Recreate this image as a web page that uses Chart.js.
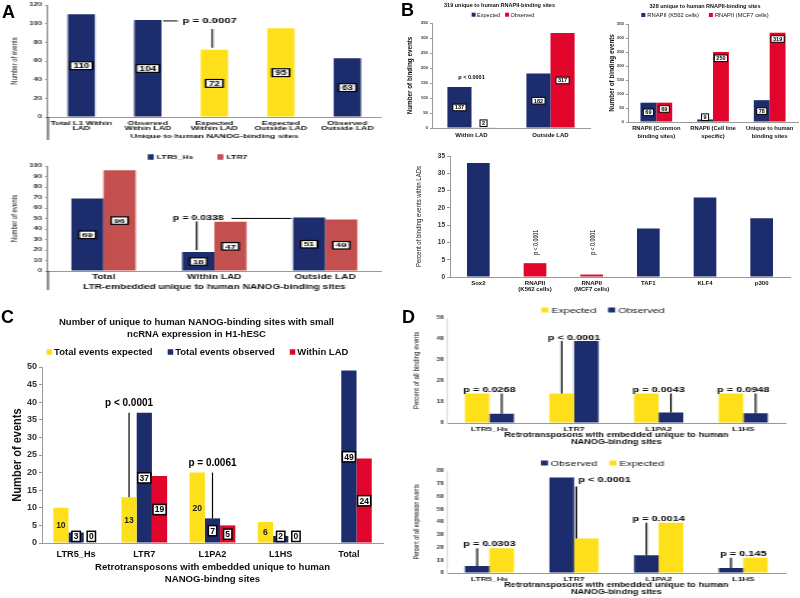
<!DOCTYPE html>
<html lang="en">
<head>
<meta charset="UTF-8" />
<title>Unique to human NANOG and RNAPII binding sites</title>
<script src="https://cdn.jsdelivr.net/npm/chart.js"></script>
<style>
  body { margin: 0; background: #fff; font-family: "Liberation Sans", Arial, sans-serif; }
  #fig { position: relative; width: 800px; height: 598px; overflow: hidden; background: #fff; }
  #fig canvas { position: absolute; }
  .letter { position: absolute; font-weight: bold; font-size: 18px; line-height: 1; color: #000; }
</style>
</head>
<body>
<div id="fig">
  <canvas id="chartA1"></canvas>
  <canvas id="chartA2"></canvas>
  <canvas id="chartB1"></canvas>
  <canvas id="chartB2"></canvas>
  <canvas id="chartB3"></canvas>
  <canvas id="chartC"></canvas>
  <canvas id="chartD1"></canvas>
  <canvas id="chartD2"></canvas>
  <div class="letter" style="left:2px;top:3px">A</div>
  <div class="letter" style="left:401px;top:1px">B</div>
  <div class="letter" style="left:1px;top:308px">C</div>
  <div class="letter" style="left:402px;top:308px">D</div>
</div>

<script>
// ---- data ----
// A, top
const a1Labels = [["Total L1 Within", "LAD"], ["Observed", "Within LAD"], ["Expected", "Within LAD"], ["Expected", "Outside LAD"], ["Observed", "Outside LAD"]];
const a1Counts = [110, 104, 72, 95, 63];
const a1Kind = ["observed", "observed", "expected", "expected", "observed"];
const a1AxisTitle = "Unique to human NANOG-binding sites";
const a1PValue = "p = 0.0007";

// A, bottom
const a2Labels = ["Total", "Within LAD", "Outside LAD"];
const a2Ltr5 = [69, 18, 51];
const a2Ltr7 = [96, 47, 49];
const a2AxisTitle = "LTR-embedded unique to human NANOG-binding sites";
const a2PValue = "p = 0.0338";

// B, top left
const b1Title = "319 unique to human RNAPII-binding sites";
const b1Labels = ["Within LAD", "Outside LAD"];
const b1Expected = [137, 182];
const b1Observed = [2, 317];
const b1P = ["p < 0.0001", null];

// B, top right
const b2Title = "328 unique to human RNAPII-binding sites";
const b2Labels = [["RNAPII (Common", "binding sites)"], ["RNAPII (Cell line", "specific)"], ["Unique to human", "binding sites"]];
const b2K562 = [69, 9, 78];
const b2Mcf7 = [69, 250, 319];

// B, bottom
const b3Labels = ["Sox2", ["RNAPII", "(K562 cells)"], ["RNAPII", "(MCF7 cells)"], "TAF1", "KLF4", "p300"];
const b3Percent = [33, 4, 0.7, 14, 23, 17];
const b3P = [null, "p < 0.0001", "p < 0.0001", null, null, null];

// C
const cTitle = ["Number of unique to human NANOG-binding sites with small", "ncRNA expression in H1-hESC"];
const cLabels = ["LTR5_Hs", "LTR7", "L1PA2", "L1HS", "Total"];
const cExpected = [10, 13, 20, 6, null];
const cObserved = [3, 37, 7, 2, 49];
const cWithinLad = [0, 19, 5, 0, 24];
const cP = [null, "p < 0.0001", "p = 0.0061", null, null];

// D
const dLabels = ["LTR5_Hs", "LTR7", "L1PA2", "L1HS"];
const dAxisTitle = ["Retrotransposons with embedded unique to human", "NANOG-bindng sites"];
const dBindExpected = [14, 14, 14, 14];
const dBindObserved = [4.4, 39, 5, 4.6];
const dBindP = ["p = 0.0268", "p < 0.0001", "p = 0.0043", "p = 0.0948"];
const dExprObserved = [5.5, 75, 14, 4];
const dExprExpected = [19.5, 27, 39.5, 12];
const dExprP = ["p = 0.0303", "p < 0.0001", "p = 0.0014", "p = 0.145"];

// ---- styles ----
const FONT = '"Liberation Sans", Arial, Helvetica, sans-serif';
const NAVY = "#1d2c6d";
const YELLOW = "#fee01a";
const BRICK = "#c3504e";
const RED = "#e1052b";
const SA = 1.55; // panel A is drawn wide
const SD = 1.45; // panel D too

function seg(ctx, x1, y1, x2, y2, w) {
  ctx.beginPath();
  ctx.lineWidth = w || 1;
  ctx.strokeStyle = "#000";
  ctx.moveTo(x1, y1);
  ctx.lineTo(x2, y2);
  ctx.stroke();
}

// white boxes with the bar value
const valueBoxes = {
  id: "valueBoxes",
  afterDatasetsDraw(chart, args, o) {
    if (!o.sets) return;
    const ctx = chart.ctx;
    const base = chart.scales.y.getPixelForValue(0);
    o.sets.forEach((s) => {
      const ds = chart.data.datasets[s.dataset];
      chart.getDatasetMeta(s.dataset).data.forEach((bar, j) => {
        const v = ds.data[j];
        if (v === null || v === undefined) return;
        const text = String(v);
        ctx.save();
        ctx.font = "bold " + s.size + "px " + FONT;
        const w = ctx.measureText(text).width + 2 * (s.padX || 2);
        const h = s.size * 1.2;
        let y = (bar.y + base) / 2;
        if (s.anchor === "top") y = bar.y + h / 2 + 3;
        y = Math.min(y, base - h / 2 - 1.5);
        if (!s.plain) {
          ctx.fillStyle = "#fff";
          ctx.fillRect(bar.x - w / 2, y - h / 2, w, h);
          ctx.lineWidth = s.border || 1.2;
          ctx.strokeStyle = "#000";
          ctx.strokeRect(bar.x - w / 2, y - h / 2, w, h);
        }
        ctx.fillStyle = s.color || "#000";
        ctx.textAlign = "center";
        ctx.textBaseline = "middle";
        ctx.fillText(text, bar.x, y + 0.5);
        ctx.restore();
      });
    });
  },
};

// p-value with a line from the taller bar down to the shorter one
const pBrackets = {
  id: "pBrackets",
  afterDatasetsDraw(chart, args, o) {
    if (!o.texts) return;
    const ctx = chart.ctx;
    const m0 = chart.getDatasetMeta(0).data;
    const m1 = chart.getDatasetMeta(1).data;
    const right = o.right || [];
    o.texts.forEach((t, i) => {
      if (!t) return;
      const a = m0[i], b = m1[i];
      const hi = a.y < b.y ? a : b;
      const lo = hi === a ? b : a;
      ctx.save();
      ctx.font = "bold " + o.size + "px " + FONT;
      ctx.fillStyle = "#000";
      let lineX = lo.x, lineTop = hi.y;
      if (right.indexOf(i) >= 0) {
        lineX = lo.x - lo.width / 2 + 1.5;
        lineTop = hi.y + 9;
        ctx.textAlign = "left";
        ctx.textBaseline = "middle";
        ctx.fillText(t, lineX + 1.5, hi.y + 3);
      } else {
        const tx = o.center === "line" ? lo.x : (a.x + b.x) / 2;
        ctx.textAlign = "center";
        ctx.textBaseline = "alphabetic";
        ctx.fillText(t, tx, hi.y - o.gap);
      }
      if (!o.noLine) seg(ctx, lineX, lineTop, lineX, lo.y, o.lineWidth || 1.2);
      ctx.restore();
    });
  },
};

// vertical p-values above bars (panel B, bottom)
const upNotes = {
  id: "upNotes",
  afterDatasetsDraw(chart, args, o) {
    if (!o.texts) return;
    const ctx = chart.ctx;
    const y = chart.scales.y.getPixelForValue(o.at);
    chart.getDatasetMeta(0).data.forEach((bar, i) => {
      const t = o.texts[i];
      if (!t) return;
      ctx.save();
      ctx.translate(bar.x + 1, y);
      ctx.rotate(-Math.PI / 2);
      ctx.scale(o.squeeze, 1);
      ctx.font = o.size + "px " + FONT;
      ctx.fillStyle = "#000";
      ctx.textAlign = "left";
      ctx.textBaseline = "middle";
      ctx.fillText(t, 0, 0);
      ctx.restore();
    });
  },
};

// titles, legends, side titles and the axis frame
const decor = {
  id: "decor",
  afterDraw(chart, args, o) {
    const ctx = chart.ctx;
    const area = chart.chartArea;
    if (o.title) {
      const t = o.title;
      ctx.save();
      ctx.font = "bold " + t.size + "px " + FONT;
      ctx.fillStyle = "#111";
      ctx.textAlign = "center";
      ctx.textBaseline = "middle";
      t.lines.forEach((line, i) => ctx.fillText(line, chart.width / 2 + (t.dx || 0), t.y + i * (t.lh || 0)));
      ctx.restore();
    }
    if (o.legend) {
      const l = o.legend;
      ctx.save();
      ctx.font = (l.weight || "bold") + " " + l.size + "px " + FONT;
      ctx.textBaseline = "middle";
      ctx.textAlign = "left";
      const items = chart.data.datasets.map((d) => ({ text: d.label, color: d.backgroundColor }));
      const widths = items.map((it) => l.boxW + l.boxGap + ctx.measureText(it.text).width);
      const total = widths.reduce((s, w) => s + w, 0) + l.gap * (items.length - 1);
      let x = chart.width / 2 + (l.dx || 0) - total / 2;
      items.forEach((it, i) => {
        ctx.fillStyle = it.color;
        ctx.fillRect(x, l.y - l.boxH / 2, l.boxW, l.boxH);
        ctx.fillStyle = "#111";
        ctx.fillText(it.text, x + l.boxW + l.boxGap, l.y + 0.5);
        x += widths[i] + l.gap;
      });
      ctx.restore();
    }
    if (o.side) {
      const s = o.side;
      ctx.save();
      ctx.translate(s.x, (area.top + area.bottom) / 2);
      ctx.rotate(-Math.PI / 2);
      ctx.scale(s.squeeze || 1, 1);
      ctx.font = (s.weight || "normal") + " " + s.size + "px " + FONT;
      ctx.fillStyle = "#111";
      ctx.textAlign = "center";
      ctx.textBaseline = "middle";
      ctx.fillText(s.text, 0, 0);
      ctx.restore();
    }
    if (o.frame) {
      ctx.save();
      seg(ctx, area.left, area.bottom, area.left, area.bottom + o.frame, 0.8);
      ctx.restore();
    }
  },
};

Chart.register(valueBoxes, pBrackets, upNotes, decor);

function setup(id, x, y, w, h, s) {
  const c = document.getElementById(id);
  c.width = Math.round(w / s);
  c.height = h;
  c.style.left = x + "px";
  c.style.top = y + "px";
  c.style.width = w + "px";
  c.style.height = h + "px";
  return c;
}

function yScale(max, step, width, tick, tickLen, axisColor) {
  return {
    min: 0,
    max: max,
    afterFit: (s) => { s.width = width; },
    ticks: { stepSize: step, color: "#333", padding: 2, font: { family: FONT, size: tick, weight: "bold" } },
    grid: { drawOnChartArea: false, tickLength: tickLen, color: axisColor || "#999" },
    border: { color: axisColor || "#999" },
  };
}

function xScale(height, tick, lh, pad, title) {
  return {
    afterFit: (s) => { s.height = height; },
    ticks: {
      color: "#111", padding: pad, maxRotation: 0, autoSkip: false,
      font: { family: FONT, size: tick, weight: "bold", lineHeight: lh },
    },
    grid: { display: false, drawTicks: false },
    border: { color: "#999" },
    title: title
      ? {
          display: true, text: title.text, color: "#111",
          padding: { top: 0, bottom: title.pad },
          font: { family: FONT, size: title.size, weight: "bold", lineHeight: title.lh || 1.2 },
        }
      : { display: false },
  };
}

function base(extra) {
  return Object.assign({
    responsive: false,
    animation: false,
    events: [],
    plugins: { legend: { display: false }, tooltip: { enabled: false } },
  }, extra);
}

// ---- A, top ----
new Chart(setup("chartA1", 0, 0, 385, 145, SA), {
  type: "bar",
  data: {
    labels: a1Labels,
    datasets: [{
      label: "Events",
      data: a1Counts,
      backgroundColor: a1Kind.map((k) => (k === "expected" ? YELLOW : NAVY)),
      barPercentage: 0.41,
      categoryPercentage: 1,
    }],
  },
  options: base({
    layout: { padding: { top: 4, right: 248 - 380 / SA, left: 0, bottom: 0 } },
    scales: {
      x: xScale(28, 5.6, 0.95, 3.5, { text: a1AxisTitle, size: 5.8, pad: 5 }),
      y: yScale(120, 20, 48 / SA, 5, 2),
    },
    plugins: {
      legend: { display: false },
      tooltip: { enabled: false },
      valueBoxes: { sets: [{ dataset: 0, size: 6.5, padX: 2, border: 1.2 }] },
      decor: { side: { text: "Number of events", x: 15 / SA, size: 6 }, frame: 23 },
    },
  }),
  plugins: [{
    id: "a1Note",
    afterDatasetsDraw(chart) {
      const ctx = chart.ctx;
      const bars = chart.getDatasetMeta(0).data;
      const from = bars[1], to = bars[2];
      const right = from.x + from.width / 2;
      ctx.save();
      ctx.font = "bold 7.3px " + FONT;
      ctx.fillStyle = "#000";
      ctx.textAlign = "left";
      ctx.textBaseline = "middle";
      ctx.fillText(a1PValue, right + 13.5, from.y + 1);
      seg(ctx, right + 1, from.y + 1, right + 10.5, from.y + 1, 1);
      seg(ctx, to.x - 1.3, from.y + 9, to.x - 1.3, to.y - 2, 1);
      ctx.restore();
    },
  }],
});

// ---- A, bottom ----
new Chart(setup("chartA2", 0, 148, 385, 148, SA), {
  type: "bar",
  data: {
    labels: a2Labels,
    datasets: [
      { label: "LTR5_Hs", data: a2Ltr5, backgroundColor: NAVY, categoryPercentage: 0.58, barPercentage: 1 },
      { label: "LTR7", data: a2Ltr7, backgroundColor: BRICK, categoryPercentage: 0.58, barPercentage: 1 },
    ],
  },
  options: base({
    layout: { padding: { top: 18, right: 248 - 380 / SA, left: 0, bottom: 0 } },
    scales: {
      x: xScale(25, 6.5, 1, 2.5, { text: a2AxisTitle, size: 6.5, pad: 4.5 }),
      y: yScale(100, 10, 48 / SA, 5, 2),
    },
    plugins: {
      legend: { display: false },
      tooltip: { enabled: false },
      valueBoxes: { sets: [{ dataset: 0, size: 6.2, padX: 2 }, { dataset: 1, size: 6.2, padX: 2 }] },
      decor: {
        legend: { y: 9, size: 5.5, boxW: 6 / SA, boxH: 5.5, gap: 15.5, boxGap: 2, dx: 5 / SA },
        side: { text: "Number of events", x: 15 / SA, size: 6 },
        frame: 19,
      },
    },
  }),
  plugins: [{
    id: "a2Note",
    afterDatasetsDraw(chart) {
      const ctx = chart.ctx;
      const bars = chart.getDatasetMeta(0).data;
      const mid = bars[1], far = bars[2];
      const ty = far.y + 1;
      ctx.save();
      ctx.font = "bold 6.8px " + FONT;
      ctx.fillStyle = "#000";
      ctx.textAlign = "center";
      ctx.textBaseline = "middle";
      ctx.fillText(a2PValue, mid.x, ty);
      const w = ctx.measureText(a2PValue).width;
      seg(ctx, mid.x - 1, ty + 3, mid.x - 1, mid.y - 2, 1);
      seg(ctx, mid.x + w / 2 + 5, ty, far.x - far.width / 2 - 1, ty, 1);
      ctx.restore();
    },
  }],
});

// ---- B, top left ----
new Chart(setup("chartB1", 400, 0, 195, 145, 1), {
  type: "bar",
  data: {
    labels: b1Labels,
    datasets: [
      { label: "Expected", data: b1Expected, backgroundColor: NAVY, categoryPercentage: 0.61, barPercentage: 1 },
      { label: "Observed", data: b1Observed, backgroundColor: RED, categoryPercentage: 0.61, barPercentage: 1 },
    ],
  },
  options: base({
    layout: { padding: { top: 23, right: 5, left: 0, bottom: 0 } },
    scales: {
      x: xScale(17, 6, 1, 4, null),
      y: yScale(350, 50, 32, 4.3, 2),
    },
    plugins: {
      legend: { display: false },
      tooltip: { enabled: false },
      valueBoxes: { sets: [{ dataset: 0, size: 5.5, padX: 2, border: 1 }, { dataset: 1, size: 5.5, padX: 2, border: 1 }] },
      pBrackets: { texts: b1P, size: 5.5, gap: 8, noLine: true },
      decor: {
        title: { lines: [b1Title], y: 5.5, size: 5.5, dx: 2 },
        legend: { y: 14.7, size: 5.5, weight: "normal", boxW: 4, boxH: 4, gap: 5, boxGap: 1.5, dx: 5.5 },
        side: { text: "Number of binding events", x: 10, size: 6.3, weight: "bold" },
      },
    },
  }),
});

// ---- B, top right ----
new Chart(setup("chartB2", 595, 0, 205, 145, 1), {
  type: "bar",
  data: {
    labels: b2Labels,
    datasets: [
      { label: "RNAPII (K562 cells)", data: b2K562, backgroundColor: NAVY, categoryPercentage: 0.56, barPercentage: 1 },
      { label: "RNAPII (MCF7 cells)", data: b2Mcf7, backgroundColor: RED, categoryPercentage: 0.56, barPercentage: 1 },
    ],
  },
  options: base({
    layout: { padding: { top: 24, right: 2, left: 0, bottom: 0 } },
    scales: {
      x: xScale(23, 5.8, 1.3, 3, null),
      y: yScale(350, 50, 33, 4.3, 2),
    },
    plugins: {
      legend: { display: false },
      tooltip: { enabled: false },
      valueBoxes: { sets: [{ dataset: 0, size: 5.5, padX: 2, border: 1 }, { dataset: 1, size: 5.5, padX: 2, border: 1, anchor: "top" }] },
      decor: {
        title: { lines: [b2Title], y: 6, size: 5.5, dx: 7.5 },
        legend: { y: 15, size: 5.8, weight: "normal", boxW: 4, boxH: 4, gap: 10, boxGap: 2, dx: 7.5 },
        side: { text: "Number of binding events", x: 17, size: 6.3, weight: "bold" },
      },
    },
  }),
});

// ---- B, bottom ----
new Chart(setup("chartB3", 400, 148, 400, 150, 1), {
  type: "bar",
  data: {
    labels: b3Labels,
    datasets: [{
      label: "Percent within LADs",
      data: b3Percent,
      backgroundColor: b3Percent.map((v, i) => (b3P[i] ? RED : NAVY)),
      barPercentage: 0.4,
      categoryPercentage: 1,
    }],
  },
  options: base({
    layout: { padding: { top: 8, right: 10, left: 0, bottom: 0 } },
    scales: {
      x: xScale(21, 6, 1.05, 3, null),
      y: yScale(35, 5, 50, 6.5, 3),
    },
    plugins: {
      legend: { display: false },
      tooltip: { enabled: false },
      upNotes: { texts: b3P, at: 6.4, size: 8, squeeze: 0.66 },
      decor: { side: { text: "Percent of binding events within LADs", x: 18.5, size: 8, squeeze: 0.75 } },
    },
  }),
});

// ---- C ----
new Chart(setup("chartC", 0, 300, 395, 298, 1), {
  type: "bar",
  data: {
    labels: cLabels,
    datasets: [
      { label: "Total events expected", data: cExpected, backgroundColor: YELLOW, categoryPercentage: 0.67, barPercentage: 1 },
      { label: "Total events observed", data: cObserved, backgroundColor: NAVY, categoryPercentage: 0.67, barPercentage: 1 },
      { label: "Within LAD", data: cWithinLad, backgroundColor: RED, categoryPercentage: 0.67, barPercentage: 1 },
    ],
  },
  options: base({
    layout: { padding: { top: 67, right: 12, left: 0, bottom: 0 } },
    scales: {
      x: xScale(55, 9.2, 1.2, 6, { text: dAxisTitle, size: 9.6, pad: 13, lh: 1.2 }),
      y: yScale(50, 5, 42, 9, 3),
    },
    plugins: {
      legend: { display: false },
      tooltip: { enabled: false },
      valueBoxes: {
        sets: [
          { dataset: 0, size: 8.5, plain: true, color: "#222" },
          { dataset: 1, size: 8.5, padX: 1.8, border: 1.5 },
          { dataset: 2, size: 8.5, padX: 1.8, border: 1.5 },
        ],
      },
      pBrackets: { texts: cP, size: 10, gap: 7, center: "line", lineWidth: 1.2 },
      decor: {
        title: { lines: cTitle, y: 22.7, lh: 11.8, size: 9.5, dx: -1 },
        legend: { y: 52, size: 9.5, boxW: 5.5, boxH: 5.5, gap: 15, boxGap: 2, dx: 0 },
        side: { text: "Number of events", x: 17, size: 13, weight: "bold", squeeze: 0.85 },
      },
    },
  }),
});

// ---- D, top ----
new Chart(setup("chartD1", 400, 300, 395, 148, SD), {
  type: "bar",
  data: {
    labels: dLabels,
    datasets: [
      { label: "Expected", data: dBindExpected, backgroundColor: YELLOW, categoryPercentage: 0.58, barPercentage: 1 },
      { label: "Observed", data: dBindObserved, backgroundColor: NAVY, categoryPercentage: 0.58, barPercentage: 1 },
    ],
  },
  options: base({
    layout: { padding: { top: 18, right: 272 - 385 / SD, left: 0, bottom: 0 } },
    scales: {
      x: xScale(25, 6, 1, 3, { text: dAxisTitle, size: 6.3, pad: 2.5, lh: 1.1 }),
      y: yScale(50, 10, 47 / SD, 4.6, 0, "#ddd"),
    },
    plugins: {
      legend: { display: false },
      tooltip: { enabled: false },
      pBrackets: { texts: dBindP, size: 7.5, gap: 1.5, lineWidth: 1.1 },
      decor: {
        legend: { y: 10, size: 7.4, weight: "normal", boxW: 7 / SD, boxH: 5, gap: 8.3, boxGap: 2, dx: 5.5 / SD },
        side: { text: "Percent of all binding events", x: 16.7 / SD, size: 6.2 },
      },
    },
  }),
});

// ---- D, bottom ----
new Chart(setup("chartD2", 400, 450, 395, 148, SD), {
  type: "bar",
  data: {
    labels: dLabels,
    datasets: [
      { label: "Observed", data: dExprObserved, backgroundColor: NAVY, categoryPercentage: 0.58, barPercentage: 1 },
      { label: "Expected", data: dExprExpected, backgroundColor: YELLOW, categoryPercentage: 0.58, barPercentage: 1 },
    ],
  },
  options: base({
    layout: { padding: { top: 21, right: 272 - 385 / SD, left: 0, bottom: 0 } },
    scales: {
      x: xScale(25, 6, 1, 3, { text: dAxisTitle, size: 6.3, pad: 2.3, lh: 1.1 }),
      y: yScale(80, 10, 47 / SD, 4.6, 0, "#ddd"),
    },
    plugins: {
      legend: { display: false },
      tooltip: { enabled: false },
      pBrackets: { texts: dExprP, size: 7.5, gap: 2, lineWidth: 1.1, right: [1] },
      decor: {
        legend: { y: 13, size: 7.4, weight: "normal", boxW: 7 / SD, boxH: 5, gap: 8.3, boxGap: 2, dx: 5 / SD },
        side: { text: "Percent of all expression events", x: 16.7 / SD, size: 5.3 },
      },
    },
  }),
});
</script>
</body>
</html>
